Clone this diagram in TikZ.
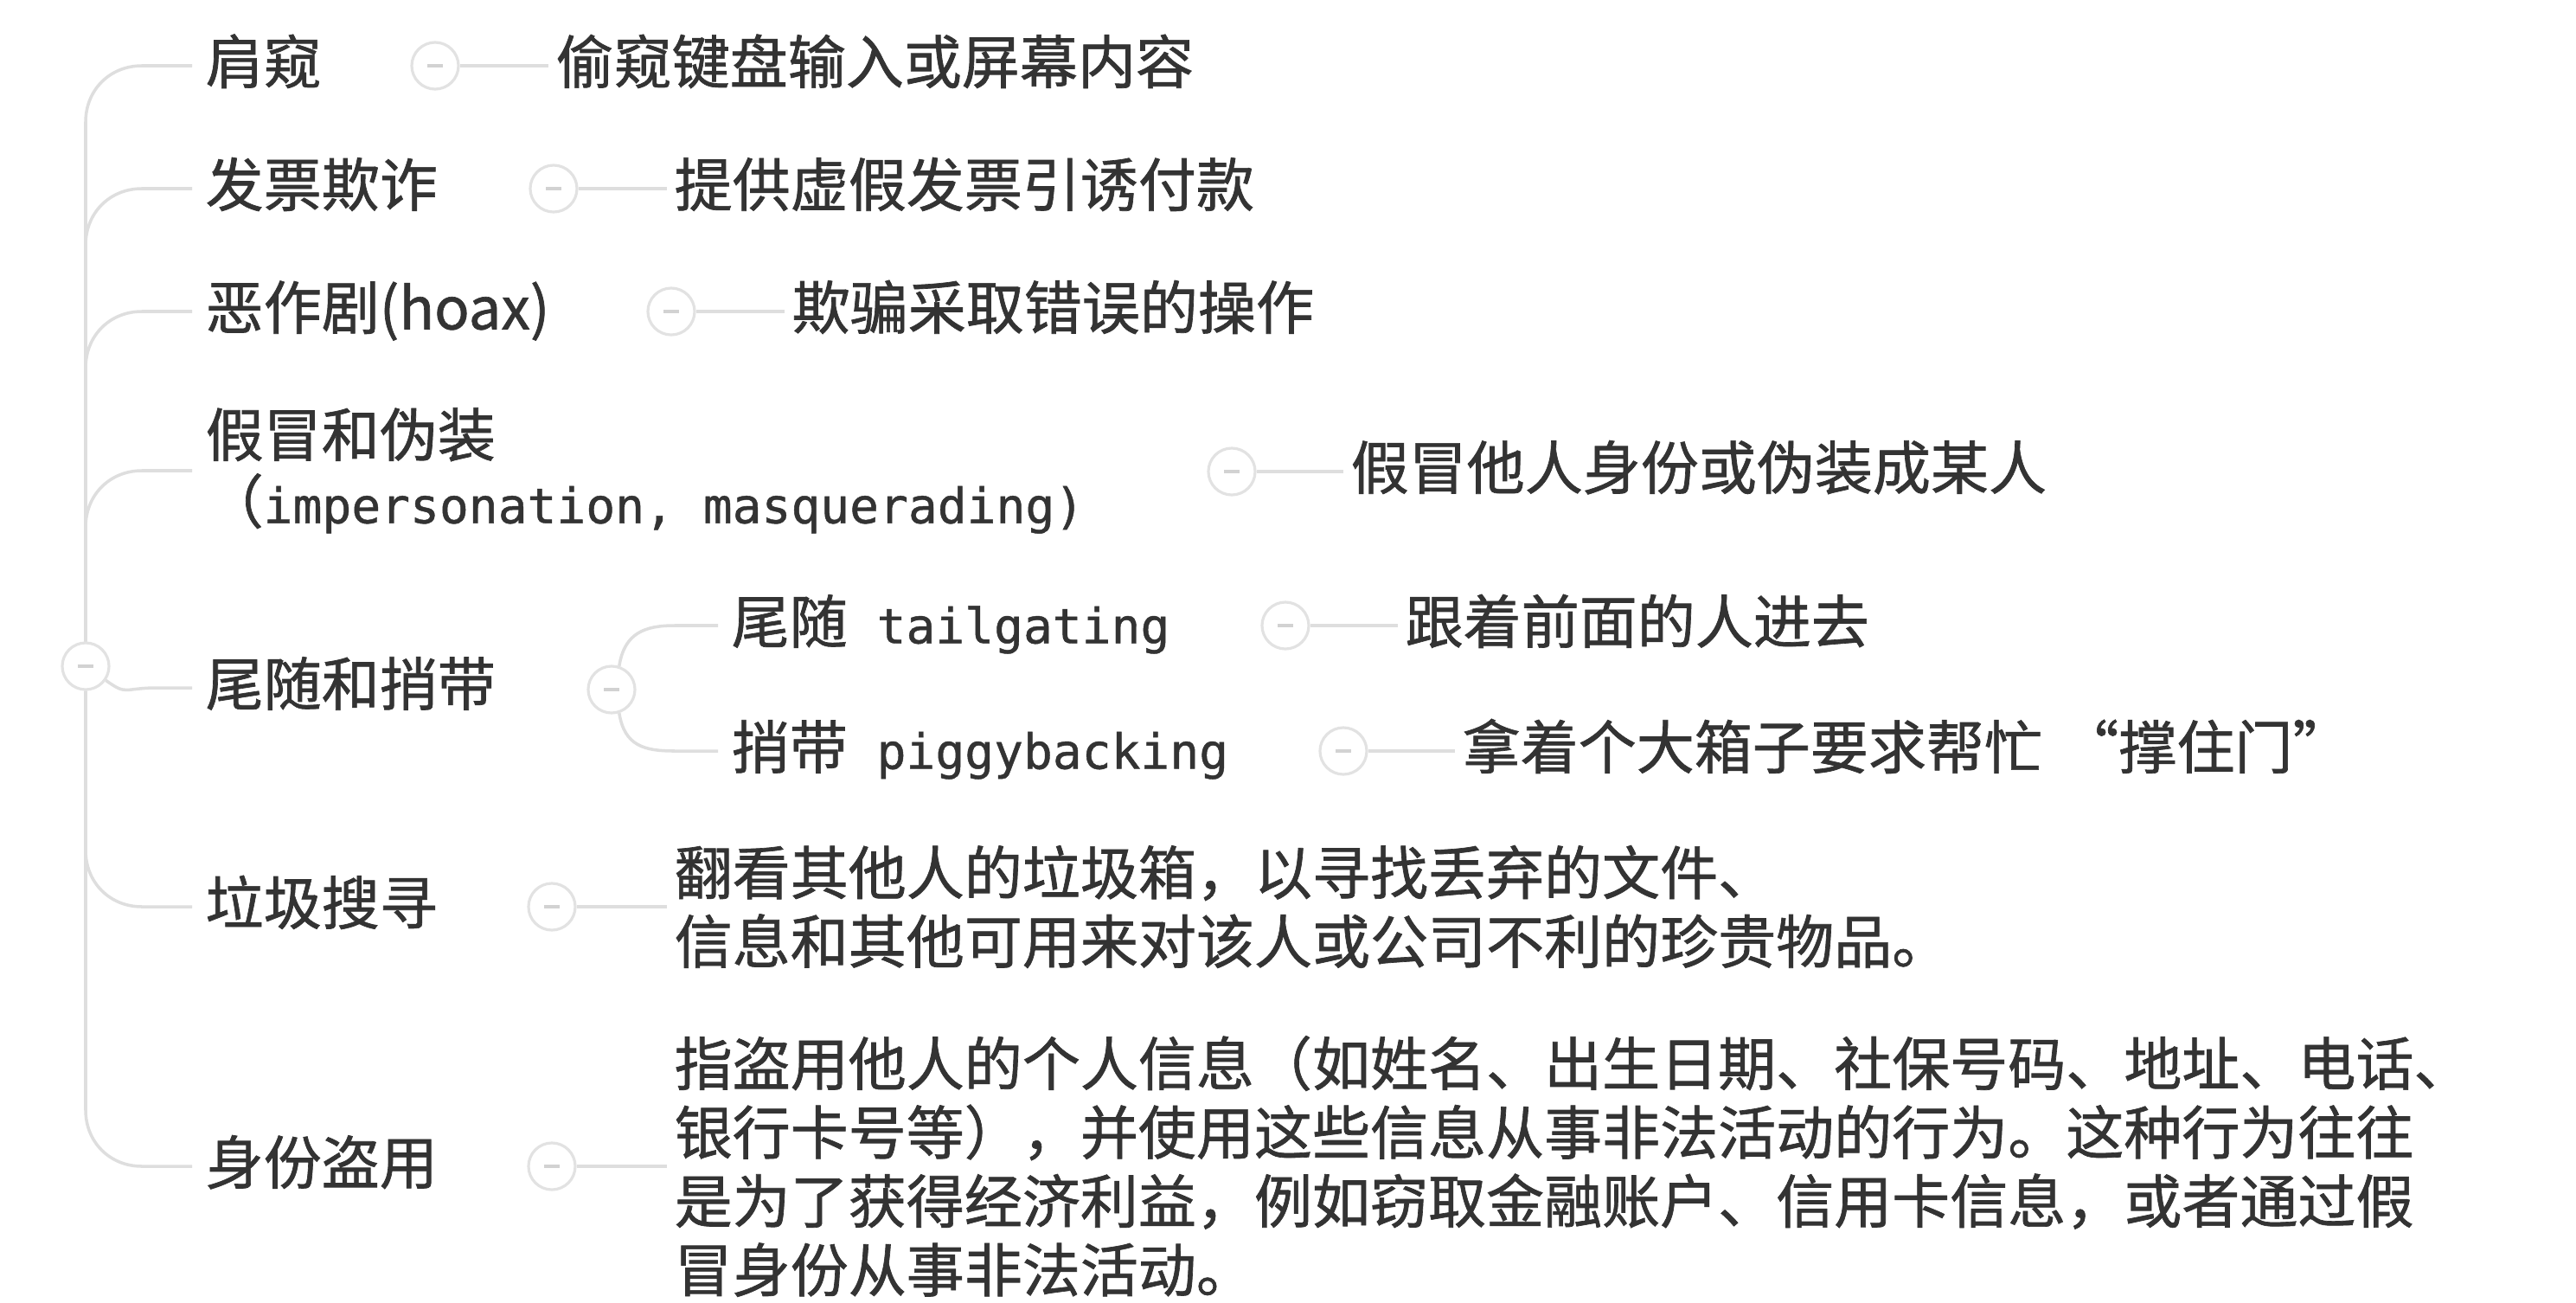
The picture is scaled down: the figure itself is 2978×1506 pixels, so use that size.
\documentclass[tikz,border=0pt]{standalone}
\usepackage{fontspec}
\setmainfont{Noto Sans CJK SC}[FakeBold=1]
\newfontfamily\monof{DejaVu Sans Mono}[FakeBold=0.8]
\usetikzlibrary{calc}
\definecolor{txt}{HTML}{333333}
\definecolor{lnc}{HTML}{DEDEDE}
\definecolor{cic}{HTML}{E2E2E2}
\definecolor{mnc}{HTML}{D2D2D2}
\newcommand\myfz{\fontsize{19.06pt}{22.6pt}\selectfont}
\newcommand\mymono{\monof\fontsize{16pt}{22.6pt}\selectfont}
\begin{document}
\begin{tikzpicture}[x=0.01cm,y=-0.01cm,
  br/.style={draw=lnc, line width=1pt},
  dot/.style={circle, draw=cic, line width=0.9pt, fill=white, minimum size=0.54cm, inner sep=0pt,
    path picture={\draw[draw=mnc, line width=0.9pt] ([xshift=-0.09cm]path picture bounding box.center) -- ([xshift=0.09cm]path picture bounding box.center);}},
  lbl/.style={anchor=west, inner xsep=0.15cm, inner ysep=0pt, text=txt, font=\myfz, text height=0.55cm, text depth=0.14cm},
  lblm/.style={anchor=west, inner xsep=0.15cm, inner ysep=0pt, text=txt, align=left, font=\myfz},
  dsc/.style={anchor=west, inner xsep=0.08cm, inner ysep=0pt, text=txt, font=\myfz, text height=0.55cm, text depth=0.14cm},
  dscm/.style={anchor=west, inner xsep=0.08cm, inner ysep=0pt, text=txt, align=left, font=\myfz}]
\fill[white] (0,0) rectangle (2978,1506);
\useasboundingbox (0,0) rectangle (2978,1506);

% root
\node[dot] (root) at (99,770) {};

% first-level labels
\node[lbl] (L1) at (222,76) {肩窥};
\node[lbl] (L2) at (222,218) {发票欺诈};
\node[lbl] (L3) at (222,360) {恶作剧(hoax)};
\node[lblm, font={\fontsize{19.06pt}{21.9pt}\selectfont}] (L4) at (222,544) {假冒和伪装\\（{\mymono impersonation, masquerading)}};
\node[lbl] (L5) at (222,795) {尾随和捎带};
\node[lbl] (L6) at (222,1048) {垃圾搜寻};
\node[lbl] (L7) at (222,1348) {身份盗用};

% collapse circles
\node[dot] (c1) at (503,76) {};
\node[dot] (c2) at (640,218) {};
\node[dot] (c3) at (776,360) {};
\node[dot] (c4) at (1424,545) {};
\node[dot] (s5) at (707,797) {};
\node[dot] (c6) at (638,1048) {};
\node[dot] (c7) at (638,1348) {};

% second-level under 尾随和捎带
\node[lbl] (L5a) at (830,723) {尾随{\mymono~tailgating}};
\node[lbl] (L5b) at (830,868) {捎带{\mymono~piggybacking}};
\node[dot] (c5a) at (1486,723) {};
\node[dot] (c5b) at (1553,868) {};

% descriptions
\node[dsc] (d1) at (634,76) {偷窥键盘输入或屏幕内容};
\node[dsc] (d2) at (771,218) {提供虚假发票引诱付款};
\node[dsc] (d3) at (907,360) {欺骗采取错误的操作};
\node[dsc] (d4) at (1553,545) {假冒他人身份或伪装成某人};
\node[dsc] (d5a) at (1616,723) {跟着前面的人进去};
\node[dsc] (d5b) at (1682,868) {拿着个大箱子要求帮忙\hspace{0.32em}“撑住门”};
\node[dscm] (d6) at (771,1048) {翻看其他人的垃圾箱，以寻找丢弃的文件、\\信息和其他可用来对该人或公司不利的珍贵物品。};
\node[dscm] (d7) at (771,1348) {指盗用他人的个人信息（如姓名、出生日期、社保号码、地址、电话、\\银行卡号等），并使用这些信息从事非法活动的行为。这种行为往往\\是为了获得经济利益，例如窃取金融账户、信用卡信息，或者通过假\\冒身份从事非法活动。};

% branches above the root
\foreach \n in {L1,L2,L3,L4} {
  \draw[br] (root.north) -- ($(root.north|-\n.west)+(0,65)$)
    .. controls ($(root.north|-\n.west)+(0,28)$) and ($(root.north|-\n.west)+(28,0)$)
    .. ($(root.north|-\n.west)+(65,0)$) -- (\n.west);
}
% branches below the root
\foreach \n in {L6,L7} {
  \draw[br] (root.south) -- ($(root.south|-\n.west)+(0,-65)$)
    .. controls ($(root.south|-\n.west)+(0,-28)$) and ($(root.south|-\n.west)+(28,0)$)
    .. ($(root.south|-\n.west)+(65,0)$) -- (\n.west);
}
% branch to 尾随和捎带
\draw[br] (root.-35) .. controls ($(root.-35)+(25,18)$) and ($(L5.west)+(-80,0)$) .. ($(L5.west)+(-40,0)$) -- (L5.west);
% sub branches
\draw[br] (s5.72) .. controls ($(s5.72)+(6,-38)$) and ($(L5a.west)+(-85,0)$) .. ($(L5a.west)+(-50,0)$) -- (L5a.west);
\draw[br] (s5.-72) .. controls ($(s5.-72)+(6,38)$) and ($(L5b.west)+(-85,0)$) .. ($(L5b.west)+(-50,0)$) -- (L5b.west);

% circle to description
\draw[br] (c1.east) -- (d1.west);
\draw[br] (c2.east) -- (d2.west);
\draw[br] (c3.east) -- (d3.west);
\draw[br] (c4.east) -- (d4.west);
\draw[br] (c5a.east) -- (d5a.west);
\draw[br] (c5b.east) -- (d5b.west);
\draw[br] (c6.east) -- (d6.west);
\draw[br] (c7.east) -- (d7.west);
\end{tikzpicture}
\end{document}
